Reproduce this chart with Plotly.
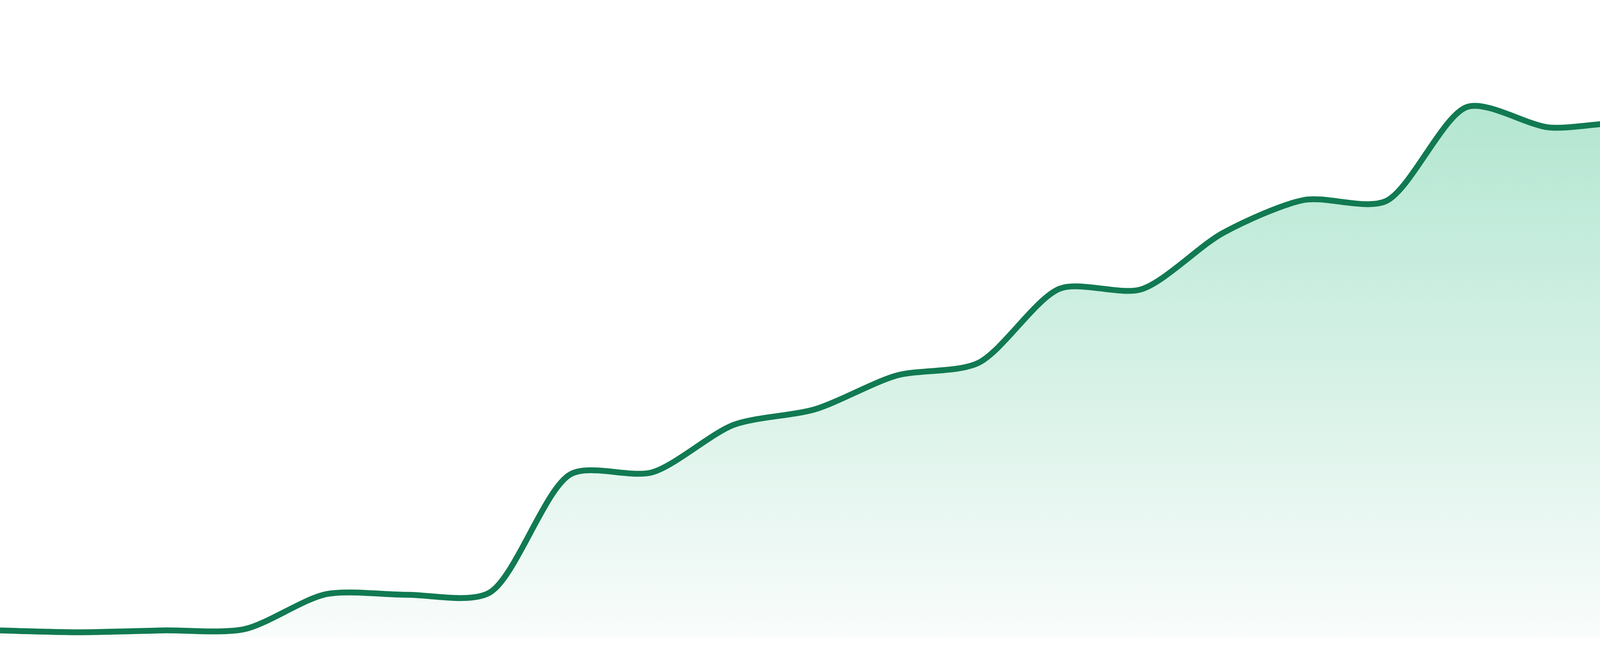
import plotly.graph_objects as go

# 24 equally spaced samples (0 = bottom of fill)
steps = list(range(24))
values = [1.1, 0.8, 1.1, 1.3, 6.9, 6.8, 7.1, 26.1, 26.4, 34.0, 36.5, 41.9,
          43.9, 55.8, 55.7, 64.7, 70.0, 69.8, 84.9, 81.6, 82.2, 77.6, 89.4, 89.0]

LINE_COLOR = "#117a52"
FILL_TOP = "#afe5cf"
FILL_BOTTOM = "#f9fcfb"

fig = go.Figure()

fig.add_trace(go.Scatter(
    x=steps,
    y=values,
    mode="lines",
    line=dict(color=LINE_COLOR, width=15, shape="spline", smoothing=0.8),
    fill="tozeroy",
    fillgradient=dict(
        type="vertical",
        colorscale=[[0, FILL_BOTTOM], [1, FILL_TOP]],
    ),
    hoverinfo="skip",
    showlegend=False,
))

fig.update_layout(
    width=4800,
    height=1680,
    margin=dict(l=0, r=0, t=0, b=48),
    paper_bgcolor="white",
    plot_bgcolor="white",
    xaxis=dict(range=[0, 23], visible=False, fixedrange=True),
    yaxis=dict(range=[0, 102], visible=False, fixedrange=True),
)

# drop the default body margin so the chart sits flush with the window
fig.write_html("out.html", config={"displayModeBar": False},
               post_script="document.body.style.margin='0';document.body.style.overflow='hidden';")
